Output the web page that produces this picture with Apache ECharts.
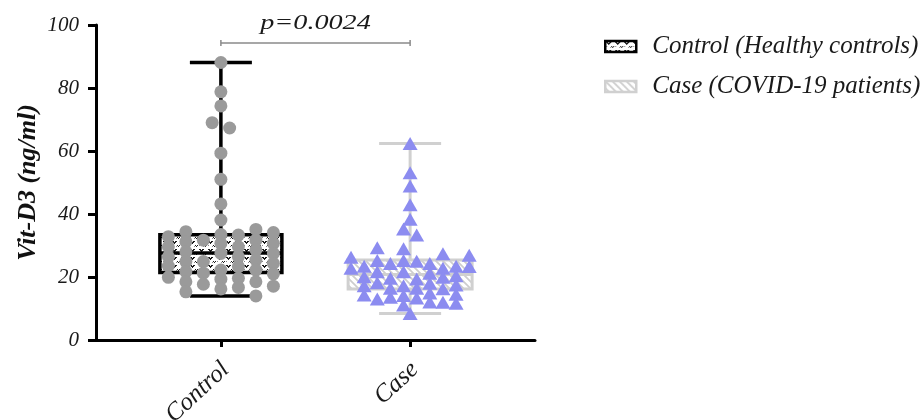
<!DOCTYPE html>
<html><head><meta charset="utf-8">
<script src="https://cdn.jsdelivr.net/npm/echarts@6/dist/echarts.min.js"></script>
<style>html,body{margin:0;padding:0;background:#fff}#c{width:924px;height:420px}</style>
</head><body><div id="c"></div>
<script>
// ---------------- DATA ----------------
const categories = ['Control', 'Case'];
const legendNames = ['Control (Healthy controls)', 'Case (COVID-19 patients)'];
const yTicks = [0, 20, 40, 60, 80, 100];
const yAxisTitle = 'Vit-D3 (ng/ml)';
const pValueText = 'p=0.0024';
// box stats: [min, Q1, median, Q3, max]
const controlBox = [14.0, 21.4, 27.6, 33.4, 88.1];
const caseBox = [8.4, 16.2, 20.8, 25.4, 62.4];
// individual values and their beeswarm column index
const controlValues = [
  88.1, 78.8, 74.3, 69.0, 67.3, 59.3, 51.0,
  43.2, 38.1, 33.5, 30.7, 27.5, 22.2, 19.3, 16.2,
  32.8, 29.6, 26.4, 23.5, 19.9,
  34.4, 31.2, 28.0, 24.9, 21.7, 18.5, 15.3,
  31.7, 24.9, 21.2, 17.7,
  33.3, 29.6, 26.4, 23.3, 19.6, 16.7,
  35.1, 31.7, 28.6, 25.4, 22.2, 18.5, 14.0,
  34.1, 30.7, 27.5, 24.3, 21.0, 17.1
];
const controlCols = [
  0, 0, 0, -0.5, 0.5, 0, 0,
  0, 0, 0, 0, 0, 0, 0, 0,
  -3, -3, -3, -3, -3,
  -2, -2, -2, -2, -2, -2, -2,
  -1, -1, -1, -1,
  1, 1, 1, 1, 1, 1,
  2, 2, 2, 2, 2, 2, 2,
  3, 3, 3, 3, 3, 3
];
const caseValues = [
  62.4, 53.1, 48.9, 42.9, 38.3, 8.4,
  35.2, 29.0, 25.2, 21.7, 17.2, 14.1, 11.1,
  33.3, 25.0, 19.4, 16.4, 13.3,
  26.3, 22.8,
  23.4, 20.1, 17.2, 14.3,
  29.3, 25.2, 21.7, 18.2, 13.0,
  24.3, 19.6, 16.4, 13.6,
  24.3, 21.2, 18.0, 14.9, 12.1,
  27.4, 22.8, 19.9, 16.3, 12.0,
  23.4, 20.4, 17.5, 14.5, 11.7,
  26.9, 23.3
];
const caseCols = [
  0, 0, 0, 0, 0, 0,
  -1, -1, -1, -1, -1, -1, -1,
  1, 1, 1, 1, 1,
  -9, -9,
  -7, -7, -7, -7,
  -5, -5, -5, -5, -5,
  -3, -3, -3, -3,
  3, 3, 3, 3, 3,
  5, 5, 5, 5, 5,
  7, 7, 7, 7, 7,
  9, 9
];
// --------------------------------------

const CONTROL_STEP = 0.0925;
const CASE_STEP = 0.0347;
const BRACKET_LEVEL = 94.3;
const SERIF = '"Liberation Serif", "DejaVu Serif", serif';

function makePattern(kind) {
  const c = document.createElement('canvas');
  const g = c.getContext('2d');
  if (kind === 'dots') {
    c.width = 9; c.height = 8;
    g.fillStyle = '#fff'; g.fillRect(0, 0, 9, 8);
    g.fillStyle = '#1a1a1a';
    [[1,1],[2,1],[4,1],[5,1],[2,2],[4,2],[3,3],[3,2]].forEach(p => g.fillRect(p[0], p[1], 1, 1));
    [[6,5],[8,5],[7,6]].forEach(p => g.fillRect(p[0], p[1], 1, 1));
    g.fillStyle = '#888';
    [[1,5],[5,6]].forEach(p => g.fillRect(p[0], p[1], 1, 1));
  } else {
    const s = 7;
    c.width = s; c.height = s;
    g.fillStyle = '#fff'; g.fillRect(0, 0, s, s);
    g.strokeStyle = '#cdcdcd'; g.lineWidth = 1.7;
    g.beginPath();
    g.moveTo(-1, -1); g.lineTo(s + 1, s + 1);
    g.moveTo(-1, s - 1); g.lineTo(1, s + 1);
    g.moveTo(s - 1, -1); g.lineTo(s + 1, 1);
    g.stroke();
  }
  return { image: c, repeat: 'repeat' };
}
const controlPattern = makePattern('dots');
const casePattern = makePattern('hatch');

function boxRenderer(stroke, lineW, fill, boxHalf, capHalf, whiskerColor) {
  return function (params, api) {
    const x = api.value(0);
    const p = [1, 2, 3, 4, 5].map(i => api.coord([x, api.value(i)]));
    const cx = p[0][0];
    const ls = { stroke: whiskerColor, lineWidth: lineW };
    return {
      type: 'group',
      children: [
        { type: 'line', shape: { x1: cx, y1: p[4][1], x2: cx, y2: p[3][1] }, style: ls },
        { type: 'line', shape: { x1: cx, y1: p[1][1], x2: cx, y2: p[0][1] }, style: ls },
        { type: 'line', shape: { x1: cx - capHalf, y1: p[4][1], x2: cx + capHalf, y2: p[4][1] }, style: ls },
        { type: 'line', shape: { x1: cx - capHalf, y1: p[0][1], x2: cx + capHalf, y2: p[0][1] }, style: ls },
        { type: 'rect', shape: { x: cx - boxHalf, y: p[3][1], width: boxHalf * 2, height: p[1][1] - p[3][1] },
          style: { fill: fill, stroke: stroke, lineWidth: lineW } },
        { type: 'line', shape: { x1: cx - boxHalf, y1: p[2][1], x2: cx + boxHalf, y2: p[2][1] }, style: { stroke: stroke, lineWidth: lineW } }
      ]
    };
  };
}

const chart = echarts.init(document.getElementById('c'), null, { renderer: 'canvas' });

const option = {
  backgroundColor: '#ffffff',
  animation: false,
  grid: { left: 96, top: 25, width: 439, height: 315, containLabel: false, outerBoundsMode: 'none' },
  legend: {
    left: 604, top: 34, orient: 'vertical', padding: 0,
    itemWidth: 31, itemHeight: 11, itemGap: 15,
    icon: 'rect',
    textStyle: { fontFamily: SERIF, fontStyle: 'italic', fontSize: 25, color: '#1a1a1a', padding: [0, 0, 0, 11] },
    data: [
      { name: legendNames[0], itemStyle: { color: controlPattern, borderColor: '#000', borderWidth: 2.5 } },
      { name: legendNames[1], itemStyle: { color: casePattern, borderColor: '#d0d0d0', borderWidth: 2.5 } }
    ]
  },
  xAxis: {
    type: 'value', min: 0.34, max: 2.66,
    splitLine: { show: false },
    axisLine: { lineStyle: { color: '#000', width: 3 } },
    axisTick: { show: true, customValues: [1, 2], length: 7, lineStyle: { color: '#000', width: 3 } },
    axisLabel: {
      customValues: [1, 2], rotate: 43, margin: 21, verticalAlign: 'top', lineHeight: 14,
      formatter: v => categories[Math.round(v) - 1] || '',
      fontFamily: SERIF, fontStyle: 'italic', fontSize: 25, color: '#1a1a1a'
    }
  },
  yAxis: {
    type: 'value', min: 0, max: 100, interval: 20,
    name: yAxisTitle, nameLocation: 'middle', nameRotate: 90, nameGap: 55,
    nameTextStyle: { fontFamily: SERIF, fontStyle: 'italic', fontWeight: 'bold', fontSize: 26, color: '#111' },
    splitLine: { show: false },
    axisLine: { show: true, lineStyle: { color: '#000', width: 3 } },
    axisTick: { show: true, length: 8, lineStyle: { color: '#000', width: 3 } },
    axisLabel: {
      margin: 17, fontFamily: SERIF, fontStyle: 'italic', fontSize: 21, color: '#1a1a1a',
      formatter: v => (yTicks.indexOf(v) >= 0 ? String(v) : '')
    }
  },
  series: [
    {
      name: legendNames[0], type: 'custom', z: 2,
      renderItem: boxRenderer('#000', 3.5, controlPattern, 61, 31, '#000'),
      encode: { x: 0, y: [1, 2, 3, 4, 5] },
      itemStyle: { color: controlPattern, borderColor: '#000' },
      data: [[1].concat(controlBox)]
    },
    {
      name: legendNames[1], type: 'custom', z: 2,
      renderItem: boxRenderer('#d0d0d0', 3, casePattern, 62, 31, '#d0d0d0'),
      encode: { x: 0, y: [1, 2, 3, 4, 5] },
      itemStyle: { color: casePattern, borderColor: '#d0d0d0' },
      data: [[2].concat(caseBox)]
    },
    {
      name: 'controlPoints', type: 'scatter', z: 5,
      symbol: 'circle', symbolSize: 13,
      itemStyle: { color: '#9a9a9a', opacity: 1 },
      data: controlValues.map((v, i) => [1 + controlCols[i] * CONTROL_STEP, v])
    },
    {
      name: 'casePoints', type: 'scatter', z: 5,
      symbol: 'triangle', symbolSize: [15, 13],
      itemStyle: { color: '#8c8cf0', opacity: 1 },
      data: caseValues.map((v, i) => [2 + caseCols[i] * CASE_STEP, v])
    },
    {
      name: 'pValue', type: 'custom', z: 6, clip: false, silent: true,
      renderItem: function (params, api) {
        const a = api.coord([api.value(0), api.value(2)]);
        const b = api.coord([api.value(1), api.value(2)]);
        const ls = { stroke: '#8a8a8a', lineWidth: 1.5 };
        return {
          type: 'group',
          children: [
            { type: 'line', shape: { x1: a[0], y1: a[1], x2: b[0], y2: b[1] }, style: ls },
            { type: 'line', shape: { x1: a[0], y1: a[1] - 3, x2: a[0], y2: a[1] + 3 }, style: ls },
            { type: 'line', shape: { x1: b[0], y1: b[1] - 3, x2: b[0], y2: b[1] + 3 }, style: ls },
            { type: 'text', x: (a[0] + b[0]) / 2, y: a[1] - 20, scaleX: 1.28,
              style: { text: pValueText, align: 'center', verticalAlign: 'middle',
                       font: 'italic 22px ' + SERIF, fill: '#1a1a1a' } }
          ]
        };
      },
      data: [[1, 2, BRACKET_LEVEL]]
    }
  ]
};
chart.setOption(option);
</script>
</body></html>
